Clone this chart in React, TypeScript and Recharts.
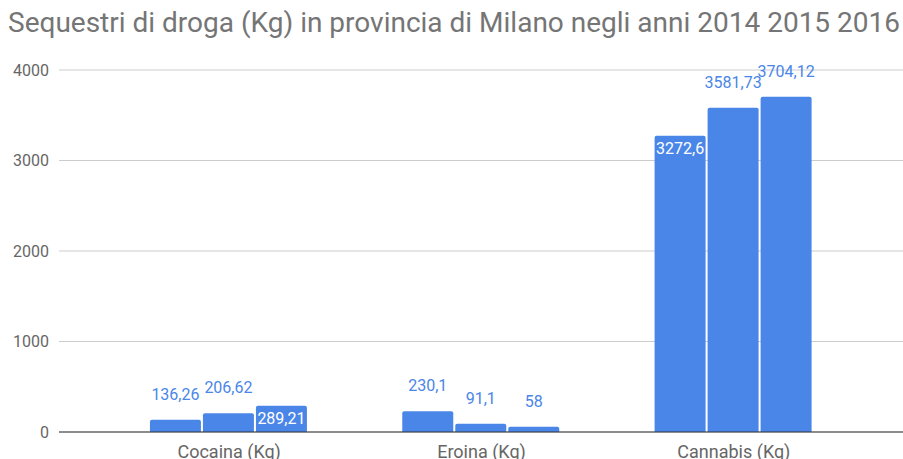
import React from 'react';
import { BarChart, Bar, XAxis, YAxis, CartesianGrid, LabelList } from 'recharts';

const categories = ['Cocaina (Kg)', 'Eroina (Kg)', 'Cannabis (Kg)'];
const values2014 = [136.26, 230.1, 3272.6];
const values2015 = [206.62, 91.1, 3581.73];
const values2016 = [289.21, 58, 3704.12];
// which data labels sit inside the bar (white) instead of above it
const inside2014 = [false, false, true];
const inside2015 = [false, false, false];
const inside2016 = [true, false, false];
const yTicks = [0, 1000, 2000, 3000, 4000];

const BLUE = '#4a86e8';

const data = categories.map((name, i) => ({
  name,
  y2014: values2014[i],
  y2015: values2015[i],
  y2016: values2016[i],
}));

const makeLabel = (inside: boolean[]) => (props: any) => {
  const { x, y, width, value, index } = props;
  const isIn = inside[index];
  const text = String(value).replace('.', ',');
  return (
    <text
      x={x + width / 2}
      y={isIn ? y + 18 : y - 20}
      textAnchor="middle"
      fill={isIn ? '#ffffff' : BLUE}
      fontSize={16}
      fontFamily="Roboto"
    >
      {text}
    </text>
  );
};

export default function App() {
  return (
    <div style={{ position: 'absolute', left: 0, top: 0, width: 903, height: 459, background: '#fff' }}>
      <div
        style={{
          position: 'absolute',
          left: 8,
          top: 6,
          fontFamily: 'Roboto',
          fontSize: 28,
          color: '#757575',
          whiteSpace: 'nowrap',
        }}
      >
        Sequestri di droga (Kg) in provincia di Milano negli anni 2014 2015 2016
      </div>
      <BarChart
        width={903}
        height={459}
        data={data}
        margin={{ top: 70, right: 0, bottom: 0, left: 0 }}
        barCategoryGap="18.6%"
        barGap={2}
      >
        <CartesianGrid vertical={false} stroke="#cccccc" />
        <XAxis
          dataKey="name"
          height={27}
          padding={{ left: 44, right: 43 }}
          tickLine={false}
          tickSize={0}
          tickMargin={13}
          axisLine={{ stroke: '#333333' }}
          tick={{ fill: '#666666', fontSize: 18, fontFamily: 'Roboto' }}
        />
        <YAxis
          width={59}
          domain={[0, 4000]}
          ticks={yTicks}
          axisLine={false}
          tickLine={false}
          tickSize={0}
          tickMargin={10}
          tick={{ fill: '#666666', fontSize: 16, fontFamily: 'Roboto' }}
        />
        <Bar dataKey="y2014" fill={BLUE} radius={[2, 2, 0, 0]} isAnimationActive={false}>
          <LabelList dataKey="y2014" content={makeLabel(inside2014)} />
        </Bar>
        <Bar dataKey="y2015" fill={BLUE} radius={[2, 2, 0, 0]} isAnimationActive={false}>
          <LabelList dataKey="y2015" content={makeLabel(inside2015)} />
        </Bar>
        <Bar dataKey="y2016" fill={BLUE} radius={[2, 2, 0, 0]} isAnimationActive={false}>
          <LabelList dataKey="y2016" content={makeLabel(inside2016)} />
        </Bar>
      </BarChart>
    </div>
  );
}
